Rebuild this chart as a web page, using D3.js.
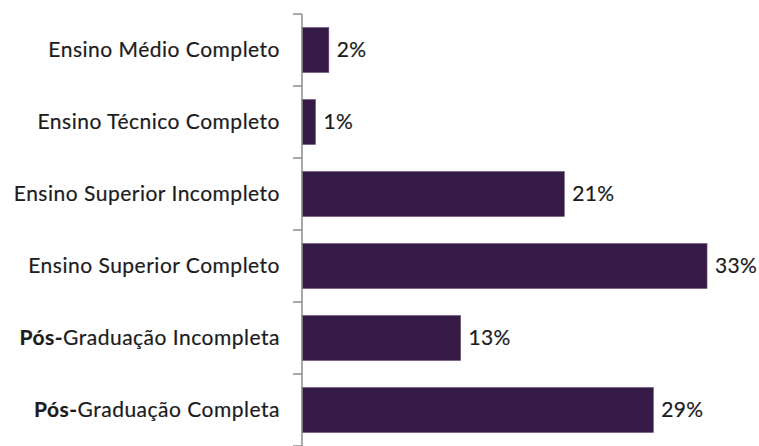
<!DOCTYPE html>
<html>
<head>
<meta charset="utf-8">
<script src="https://cdn.jsdelivr.net/npm/d3@7"></script>
<style>
  body { margin: 0; background: #fff; }
  svg text { font-family: Lato, "Open Sans", sans-serif; }
</style>
</head>
<body>
<svg width="759" height="446"></svg>
<script>
// categories top to bottom
var categories = [
  "Ensino Médio Completo",
  "Ensino Técnico Completo",
  "Ensino Superior Incompleto",
  "Ensino Superior Completo",
  "Pós-Graduação Incompleta",
  "Pós-Graduação Completa"
]
// values (labels show them rounded)
var values = [2.2, 1.1, 21.5, 33.2, 13.0, 28.8]
var labels = ["2%", "1%", "21%", "33%", "13%", "29%"]

var left = 302
var svg = d3.select("svg")

var x = d3.scaleLinear().domain([0, 35]).range([left, left + 35 * 12.2])
var y = d3.scaleBand()
    .domain(categories)
    .range([14, 446])
    .paddingInner(0.375)
    .paddingOuter(0.1875)

var barColor = "#351b46"

// bars
svg.selectAll("rect.bar")
    .data(categories)
    .enter().append("rect")
    .attr("class", "bar")
    .attr("x", x(0))
    .attr("y", function(d) { return y(d) })
    .attr("width", function(d, i) { return x(values[i]) - x(0) })
    .attr("height", y.bandwidth())
    .attr("fill", barColor)
    .attr("stroke", "#6b4f7a")
    .attr("stroke-width", 0.6)

// axis line + boundary ticks
var axisColor = "#8c8c8c"
svg.append("line")
    .attr("x1", left).attr("x2", left)
    .attr("y1", y.range()[0]).attr("y2", y.range()[1])
    .attr("stroke", axisColor).attr("stroke-width", 1.5)

var step = y.step()
var bounds = categories.map(function(d) { return y(d) - step * y.paddingInner() / 2 })
bounds.push(y.range()[1])
svg.selectAll("line.tick")
    .data(bounds)
    .enter().append("line")
    .attr("class", "tick")
    .attr("x1", left - 9).attr("x2", left)
    .attr("y1", function(d) { return d }).attr("y2", function(d) { return d })
    .attr("stroke", axisColor).attr("stroke-width", 1.5)

var fontSize = 21
// category labels
var cat = svg.selectAll("text.cat")
    .data(categories)
    .enter().append("text")
    .attr("class", "cat")
    .attr("x", left - 22)
    .attr("y", function(d) { return y(d) + y.bandwidth() / 2 })
    .attr("dy", "0.35em")
    .attr("text-anchor", "end")
    .attr("font-size", fontSize)
    .attr("letter-spacing", 0.5)
    .attr("fill", "#1c1c1c")
    .attr("stroke", "#1c1c1c")
    .attr("stroke-width", 0.2)
cat.each(function(d) {
    var t = d3.select(this)
    if (d.indexOf("Pós-") === 0) {
        t.append("tspan").attr("font-weight", "bold").text("Pós-")
        t.append("tspan").text(d.slice(4))
    } else {
        t.text(d)
    }
})

// value labels
svg.selectAll("text.val")
    .data(categories)
    .enter().append("text")
    .attr("class", "val")
    .attr("x", function(d, i) { return x(values[i]) + 8 })
    .attr("y", function(d) { return y(d) + y.bandwidth() / 2 })
    .attr("dy", "0.35em")
    .attr("font-size", fontSize)
    .attr("letter-spacing", 0.3)
    .attr("fill", "#1c1c1c")
    .attr("stroke", "#1c1c1c")
    .attr("stroke-width", 0.2)
    .text(function(d, i) { return labels[i] })
</script>
</body>
</html>
